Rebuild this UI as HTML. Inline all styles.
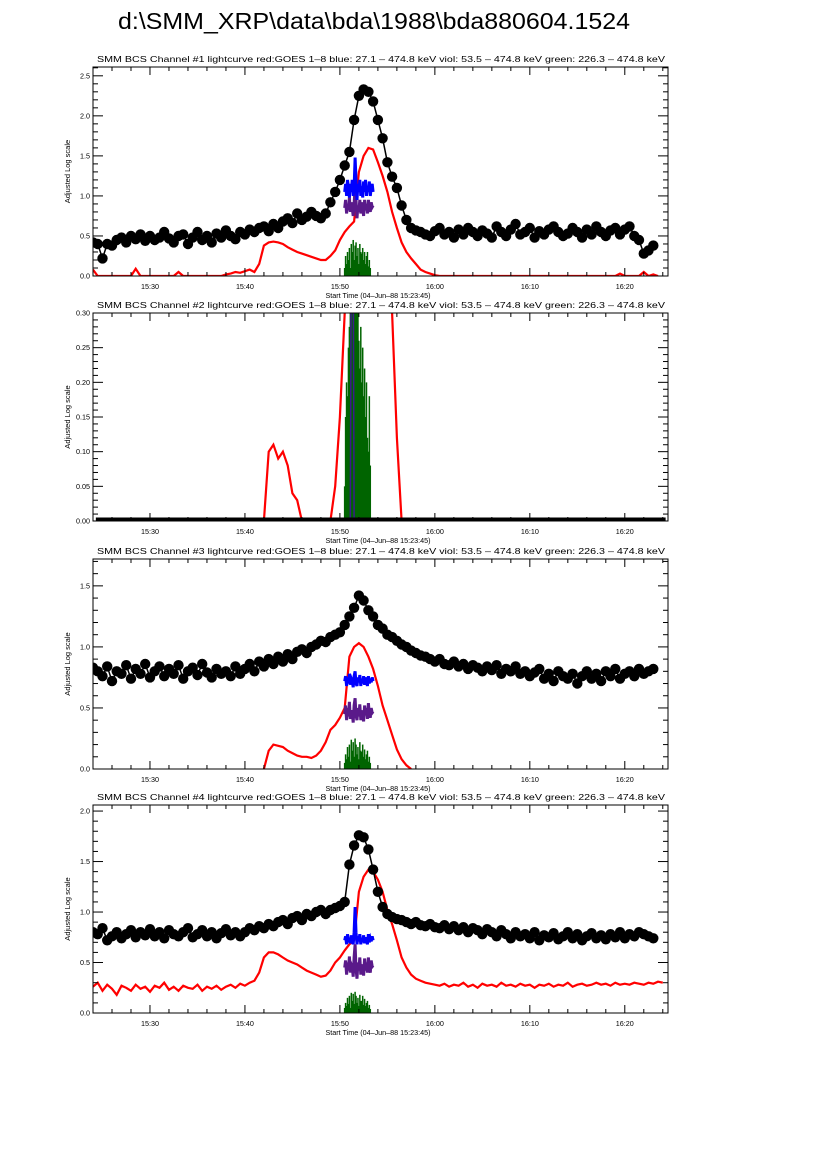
<!DOCTYPE html>
<html><head><meta charset="utf-8"><style>
html,body{margin:0;padding:0;background:#fff;}
svg{display:block;font-family:"Liberation Sans",sans-serif;}
</style></head><body>
<svg id="chart" width="826" height="1169" viewBox="0 0 826 1169" xmlns="http://www.w3.org/2000/svg">
<text x="118" y="29" font-size="23" textLength="512" lengthAdjust="spacingAndGlyphs">d:\SMM_XRP\data\bda\1988\bda880604.1524</text>
</svg>
<script>
// ---------- data (time in minutes after 15:00) ----------
const xTickLabels = ["15:30","15:40","15:50","16:00","16:10","16:20"];
const xTickTimes = [30,40,50,60,70,80];
const blackStart = 24, blackStep = 0.5;
const black1 = [0.42,0.40,0.22,0.40,0.38,0.45,0.48,0.42,0.50,0.46,0.52,0.44,0.50,
 0.45,0.48,0.55,0.47,0.42,0.50,0.52,0.40,0.48,0.55,0.45,0.50,0.42,0.53,0.48,0.57,0.50,0.46,0.55,
 0.52,0.58,0.55,0.60,0.62,0.56,0.65,0.60,0.68,0.72,0.66,0.78,0.70,0.74,0.80,0.75,0.72,0.78,
 0.92,1.05,1.2,1.38,1.55,1.95,2.25,2.33,2.3,2.18,1.95,1.72,1.42,1.24,1.1,0.88,0.7,0.6,0.57,0.55,0.52,
 0.50,0.56,0.60,0.52,0.55,0.48,0.58,0.52,0.60,0.55,0.50,0.57,0.53,0.48,0.62,0.55,0.50,0.58,0.65,0.52,
 0.55,0.60,0.48,0.56,0.52,0.58,0.62,0.55,0.50,0.53,0.60,0.55,0.48,0.58,0.52,0.62,0.55,0.50,0.57,0.60,
 0.52,0.58,0.62,0.50,0.45,0.28,0.32,0.38];
const black3 = [0.83,0.80,0.76,0.84,0.72,0.80,0.78,0.85,0.74,0.82,0.78,0.86,0.75,
 0.80,0.84,0.76,0.82,0.78,0.85,0.74,0.80,0.83,0.77,0.86,0.79,0.75,0.82,0.78,0.80,0.76,0.84,0.78,
 0.82,0.86,0.80,0.88,0.84,0.90,0.86,0.92,0.88,0.94,0.90,0.96,0.98,0.95,1.0,1.02,1.05,1.04,
 1.08,1.1,1.12,1.18,1.25,1.32,1.42,1.38,1.3,1.25,1.18,1.15,1.1,1.08,1.05,1.02,1.0,0.97,0.95,0.93,0.92,
 0.90,0.88,0.90,0.86,0.85,0.88,0.84,0.86,0.82,0.85,0.83,0.80,0.84,0.81,0.85,0.78,0.82,0.80,0.84,0.78,
 0.80,0.76,0.79,0.82,0.74,0.78,0.72,0.80,0.76,0.74,0.78,0.70,0.76,0.80,0.74,0.78,0.72,0.80,0.76,0.82,
 0.74,0.78,0.80,0.76,0.82,0.78,0.80,0.82];
const black4 = [0.80,0.78,0.84,0.72,0.76,0.80,0.74,0.78,0.82,0.75,0.80,0.77,0.83,
 0.76,0.80,0.74,0.82,0.78,0.76,0.80,0.84,0.75,0.78,0.82,0.76,0.80,0.74,0.79,0.83,0.77,0.80,0.76,
 0.80,0.84,0.82,0.86,0.84,0.88,0.86,0.90,0.92,0.88,0.94,0.96,0.92,0.98,0.96,1.0,1.02,0.98,
 1.02,1.04,1.06,1.1,1.47,1.66,1.76,1.74,1.62,1.42,1.2,1.05,0.98,0.95,0.93,0.92,0.90,0.88,0.90,0.87,0.86,
 0.88,0.85,0.84,0.87,0.83,0.86,0.82,0.85,0.80,0.84,0.82,0.78,0.83,0.80,0.76,0.82,0.78,0.74,0.80,0.76,
 0.78,0.74,0.80,0.72,0.77,0.75,0.79,0.73,0.76,0.80,0.74,0.78,0.72,0.76,0.79,0.74,0.77,0.73,0.78,0.75,
 0.80,0.74,0.78,0.76,0.80,0.78,0.76,0.74];
const redStart = 24, redStep = 0.5;
const red1 = [0.08,0,0,0,0,0,0,0,0,0.09,0,0,0,0,0,0,0,0,0.05,0,0,0,0,0,0,0,0,0,
 0.02,0.03,0.05,0.04,0.06,0.08,0.05,0.15,
 0.38,0.42,0.43,0.42,0.4,0.36,0.33,0.3,0.28,0.26,0.24,0.22,0.2,0.2,0.25,0.32,
 0.45,0.55,0.62,0.68,1.3,1.5,1.6,1.58,1.42,1.25,1.05,0.8,0.6,0.42,0.3,0.22,0.15,0.08,0.05,0.03,0.01,
 0,0,0,0,0,0,0,0,0,0,0,0,0,0,0,0,0,0,0,0,0,0,0,0,0,0,0,0,0,0,0,0,0,0,0,0,0,0,0.03,0,0,0,0,0.05,0,0.02,0];
const red2Start = 42;
const red2 = [0,0.1,0.11,0.09,0.1,0.08,0.04,0.03,0.0,0,0,0,0,0,0.0,0.05,0.15,0.3,0.5,0.8,1.0,1.1,1.0,0.9,0.8,0.6,0.4,0.3,0.12,0.0,0];
const red3Start = 42;
const red3 = [0,0.15,0.2,0.19,0.18,0.15,0.13,0.11,0.1,0.1,0.09,0.11,0.15,0.22,0.32,0.36,0.42,0.5,0.92,1.0,1.03,1.0,0.92,0.82,0.68,0.52,0.4,0.28,0.16,0.08,0.03,0];
const red4 = [0.26,0.30,0.22,0.28,0.24,0.18,0.27,0.25,0.22,0.28,0.24,0.26,0.21,0.27,0.25,0.30,0.23,0.26,0.22,0.27,0.25,0.24,0.28,0.22,0.26,0.24,0.27,0.23,
 0.26,0.28,0.25,0.29,0.27,0.30,0.32,0.40,
 0.55,0.6,0.6,0.58,0.55,0.52,0.5,0.48,0.45,0.42,0.4,0.38,0.36,0.37,0.42,0.5,
 0.55,0.62,0.68,0.72,1.2,1.35,1.42,1.4,1.32,1.2,1.02,0.88,0.72,0.55,0.45,0.38,0.34,0.32,0.3,0.29,0.28,
 0.27,0.29,0.26,0.28,0.27,0.30,0.26,0.28,0.25,0.29,0.27,0.28,0.26,0.30,0.27,0.28,0.26,0.29,0.27,0.28,
 0.25,0.28,0.27,0.29,0.26,0.28,0.27,0.30,0.26,0.28,0.29,0.27,0.28,0.30,0.28,0.29,0.27,0.30,0.28,0.29,
 0.28,0.30,0.29,0.28,0.30,0.29,0.31,0.30];
const hxStart = 50.5, hxStep = 0.1;
const blue1 = [1.05,1.15,1.0,1.2,1.1,0.98,1.15,1.05,1.2,1.0,1.1,1.48,1.2,0.95,1.15,1.05,1.2,1.0,1.12,0.98,1.18,1.05,1.2,1.0,1.12,1.05,1.18,1.0,1.1,1.15,1.05];
const viol1 = [0.85,0.95,0.78,0.9,0.82,0.98,0.8,0.92,0.85,0.75,0.9,1.1,0.95,0.72,0.88,0.8,0.95,0.78,0.92,0.85,0.75,0.95,0.82,0.9,0.78,0.95,0.85,0.8,0.92,0.86,0.88];
const green1 = [0.1,0.25,0.15,0.3,0.2,0.35,0.1,0.4,0.3,0.45,0.2,0.38,0.42,0.25,0.35,0.15,0.4,0.3,0.28,0.35,0.2,0.3,0.15,0.25,0.3,0.12,0.2,0.1];
const blue2 = [0,0,0,0,0,0,0,0.4,0.5,0.4,0,0,0,0,0,0,0,0,0,0,0,0,0,0,0,0,0,0,0,0,0];
const green2 = [0.05,0.15,0.2,0.18,0.25,0.28,0.35,0.4,0.32,0.45,0.5,0.38,0.42,0.35,0.3,0.26,0.22,0.28,0.2,0.25,0.18,0.22,0.15,0.2,0.12,0.1,0.18,0.08];
const blue3 = [0.72,0.76,0.68,0.75,0.70,0.78,0.69,0.74,0.72,0.67,0.76,0.80,0.70,0.68,0.75,0.71,0.77,0.68,0.74,0.70,0.76,0.69,0.75,0.72,0.68,0.76,0.70,0.74,0.71,0.75,0.72];
const viol3 = [0.45,0.52,0.40,0.50,0.43,0.55,0.41,0.48,0.46,0.38,0.52,0.58,0.44,0.40,0.50,0.43,0.53,0.40,0.48,0.45,0.39,0.52,0.44,0.50,0.41,0.54,0.45,0.42,0.50,0.46,0.47];
const green3 = [0.05,0.12,0.08,0.18,0.1,0.2,0.06,0.24,0.15,0.22,0.1,0.25,0.2,0.12,0.18,0.08,0.22,0.15,0.14,0.2,0.1,0.16,0.08,0.12,0.15,0.06,0.1,0.05];
const blue4 = [0.72,0.76,0.68,0.78,0.70,0.74,0.69,0.77,0.72,0.68,0.80,1.05,0.80,0.68,0.76,0.71,0.78,0.68,0.74,0.70,0.77,0.69,0.75,0.72,0.68,0.78,0.70,0.74,0.71,0.76,0.72];
const viol4 = [0.45,0.52,0.38,0.50,0.42,0.56,0.40,0.48,0.46,0.36,0.55,0.68,0.44,0.34,0.50,0.42,0.55,0.38,0.48,0.45,0.37,0.54,0.42,0.50,0.40,0.55,0.44,0.40,0.52,0.46,0.47];
const green4 = [0.05,0.1,0.07,0.15,0.09,0.17,0.05,0.2,0.12,0.19,0.09,0.21,0.17,0.1,0.15,0.07,0.18,0.12,0.12,0.17,0.08,0.14,0.07,0.1,0.12,0.05,0.08,0.04];

// ---------- layout ----------
const NS = "http://www.w3.org/2000/svg";
const svg = document.getElementById("chart");
const L = 93, R = 668, T0 = 24, T1 = 84.55;
function xs(t){ return L + (t - T0) * (R - L) / (T1 - T0); }
const sub = "lightcurve  red:GOES 1\u20138  blue: 27.1 \u2013 474.8 keV  viol: 53.5 \u2013 474.8 keV  green: 226.3 \u2013 474.8 keV";
const panels = [
 {n:1, top:67, y0:276, ymax:2.61, major:0.5, minor:0.1, dec:1, black:black1, red:red1, redS:redStart, blue:blue1, viol:viol1, green:green1},
 {n:2, top:313, y0:521, ymax:0.30, major:0.05, minor:0.01, dec:2, black:null, red:red2, redS:red2Start, blue:blue2, viol:null, green:green2},
 {n:3, top:559, y0:769, ymax:1.72, major:0.5, minor:0.1, dec:1, black:black3, red:red3, redS:red3Start, blue:blue3, viol:viol3, green:green3},
 {n:4, top:805, y0:1013, ymax:2.06, major:0.5, minor:0.1, dec:1, black:black4, red:red4, redS:redStart, blue:blue4, viol:viol4, green:green4}
];
function mk(tag, attrs, parent){
 const e = document.createElementNS(NS, tag);
 for (const k in attrs) e.setAttribute(k, attrs[k]);
 (parent || svg).appendChild(e);
 return e;
}
panels.forEach(p => {
 const ys = v => p.y0 - v * (p.y0 - p.top) / p.ymax;
 const g = mk("g", {});
 
 
 const clipId = "clip" + p.n;
 const cp = mk("clipPath", {id: clipId}, g);
 mk("rect", {x:L, y:p.top, width:R-L, height:p.y0-p.top}, cp);
 const tt = mk("text", {x:97, y:p.top-5, "font-size":8.6, textLength:568, lengthAdjust:"spacingAndGlyphs"}, g);
 tt.textContent = "SMM BCS Channel #" + p.n + " " + sub;
 
 
 const yl = mk("text", {x:0, y:0, "font-size":7.5, "text-anchor":"middle", transform:"translate(70," + ((p.top+p.y0)/2) + ") rotate(-90)"}, g);
 yl.textContent = "Adjusted Log scale";
 
 
 const xl = mk("text", {x:378, y:p.y0+22, "font-size":7.2, "text-anchor":"middle"}, g);
 xl.textContent = "Start Time (04\u2013Jun\u201388 15:23:45)";
 
 
 const plot = mk("g", {"clip-path":"url(#" + clipId + ")"}, g);
 // green bars
 const gg = mk("g", {stroke:"#006400", "stroke-width":1.5}, plot);
 
 
 p.green.forEach((v, i) => {
  const x = xs(hxStart + i*hxStep);
  const ln = mk("line", {x1:x, x2:x, y1:ys(0), y2:ys(v)}, gg);
  
  
 });
 // red
 const rp = mk("polyline", {fill:"none", stroke:"#ff0000", "stroke-width":2.2, points:p.red.map((v,i)=>xs(p.redS+i*redStep).toFixed(1)+","+ys(v).toFixed(1)).join(" ")}, plot);
 
 
 // panel 2: blue drawn beneath black baseline
 if (!p.black) {
  const bp2 = mk("polyline", {fill:"none", stroke:"#3a1a8a", "stroke-width":1.5, points:p.blue.map((v,i)=>xs(hxStart+i*hxStep).toFixed(1)+","+ys(v).toFixed(1)).join(" ")}, plot);
  
  
 }
 // black
 if (p.black) {
  const pts = p.black.map((v,i)=>[xs(blackStart+i*blackStep), ys(v)]);
  const bl = mk("polyline", {fill:"none", stroke:"#000", "stroke-width":1.5, points:pts.map(q=>q[0].toFixed(1)+","+q[1].toFixed(1)).join(" ")}, plot);
  
  
  pts.forEach(q => {
   const c = mk("circle", {cx:q[0].toFixed(1), cy:q[1].toFixed(1), r:5.2, fill:"#000"}, plot);
   
   
  });
 } else {
  const bl = mk("line", {x1:xs(24.3), x2:xs(84.3), y1:ys(0)-1, y2:ys(0)-1, stroke:"#000", "stroke-width":5}, plot);
  
  
 }
 if (p.viol) {
  const vp = mk("polyline", {fill:"none", stroke:"#5a1a8a", "stroke-width":3, points:p.viol.map((v,i)=>xs(hxStart+i*hxStep).toFixed(1)+","+ys(v).toFixed(1)).join(" ")}, plot);
  
  
 }
 if (p.black) {
  const bp = mk("polyline", {fill:"none", stroke:"#0000ff", "stroke-width":3, points:p.blue.map((v,i)=>xs(hxStart+i*hxStep).toFixed(1)+","+ys(v).toFixed(1)).join(" ")}, plot);
  
  
 }
 const box = mk("rect", {x:L, y:p.top, width:R-L, height:p.y0-p.top, fill:"none", stroke:"#000", "stroke-width":1}, g);
 
 
 for (let t = 26; t <= 84; t += 2) {
  const isMaj = (t % 10 === 0);
  const len = isMaj ? 8 : 4, x = xs(t);
  mk("line", {x1:x, x2:x, y1:p.y0, y2:p.y0-len, stroke:"#000"}, g);
  mk("line", {x1:x, x2:x, y1:p.top, y2:p.top+len, stroke:"#000"}, g);
 }
 xTickLabels.forEach((lab, i) => {
  const tx = mk("text", {x:xs(xTickTimes[i]), y:p.y0+13, "font-size":7.2, "text-anchor":"middle"}, g);
  tx.textContent = lab;
  
  
 });
 const nMin = Math.floor(p.ymax / p.minor + 1e-6);
 for (let k = 0; k <= nMin; k++) {
  const v = k * p.minor, y = ys(v);
  const ratio = p.major / p.minor;
  const isMaj = (k % Math.round(ratio) === 0);
  const len = isMaj ? 10 : 5;
  mk("line", {x1:L, x2:L+len, y1:y, y2:y, stroke:"#000"}, g);
  mk("line", {x1:R, x2:R-len, y1:y, y2:y, stroke:"#000"}, g);
  if (isMaj) {
   const ty = mk("text", {x:L-3, y:y+2.5, "font-size":7.2, "text-anchor":"end"}, g);
   ty.textContent = v.toFixed(p.dec);
   
   
  }
 }
});
</script>
</body></html>
